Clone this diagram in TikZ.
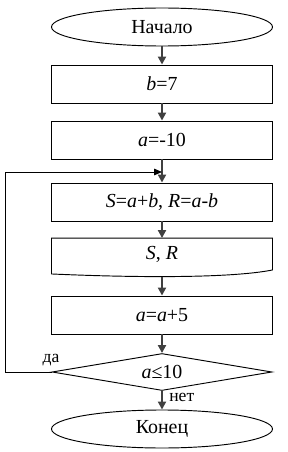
\documentclass[tikz,border=0pt]{standalone}
\usepackage{fontspec}
\setmainfont{Liberation Serif}
\usetikzlibrary{shapes.geometric, arrows.meta, calc}
\definecolor{flowgray}{RGB}{64, 64, 64}
\tikzset{
    blockbase/.style={draw, line width=0.8pt, font=\fontsize{17}{20}\selectfont, align=center, inner sep=0pt},
    termbox/.style={blockbase, ellipse, minimum width=6.63cm, minimum height=1.14cm},
    procbox/.style={blockbase, rectangle, minimum width=6.63cm, minimum height=1.14cm},
    docbox/.style={blockbase, draw=none, rectangle, minimum width=6.6cm, minimum height=0.93cm},
    condbox/.style={blockbase, diamond, aspect=6, minimum width=6.6cm, minimum height=1.11cm},
    flowarrow/.style={-{Triangle[length=2.4mm, width=2.4mm]}, line width=1.8pt, draw=flowgray},
    looparrow/.style={-{Triangle[length=2.4mm, width=2mm]}, line width=0.8pt},
    branchlabel/.style={font=\fontsize{15}{18}\selectfont},
}
\begin{document}
\begin{tikzpicture}[x=0.03cm, y=-0.03cm]
    \useasboundingbox (0,0) rectangle (288,452);

    % Start and assignments
    \node[termbox] (start) at (162,27) {Начало};
    \node[procbox] (setb) at (162,84) {\textit{b}=7};
    \node[procbox] (seta) at (162,140) {\textit{a}=-10};

    % Loop body
    \node[procbox] (calc) at (162,202) {\textit{S}=\textit{a}+\textit{b}, \textit{R}=\textit{a}-\textit{b}};
    \node[docbox] (print) at (162,254) {\textit{S}, \textit{R}};
    \draw[line width=0.8pt] (print.south west) -- (print.north west) -- (print.north east) -- (print.south east)
          .. controls ($(print.south east)+(-40,8)$) and ($(print.south west)+(90,8)$) .. ($(print.south west)+(0,4)$) -- cycle;
    \node[procbox] (step) at (162,315) {\textit{a}=\textit{a}+5};

    % Condition and end
    \node[condbox] (cond) at (162,372) {\textit{a}≤10};
    \node[termbox] (stop) at (162,429) {Конец};
    \node[branchlabel] (yes) at (51,360) {да};

    % Connections
    \coordinate (join) at (162,172);
    \draw[flowarrow] (start) -- (setb);
    \draw[flowarrow] (setb) -- (seta);
    \draw[flowarrow] (seta) -- (calc);
    \draw[flowarrow] (calc) -- (print.north);
    \draw[flowarrow] ($(print.south)+(0,7)$) -- (step);
    \draw[flowarrow] (step) -- (cond);
    \draw[flowarrow] (cond) -- (stop) node[pos=0.35, right=2pt, branchlabel] {нет};
    \draw[looparrow] (cond.west) -- ++(-46,0) |- (join);
\end{tikzpicture}
\end{document}
